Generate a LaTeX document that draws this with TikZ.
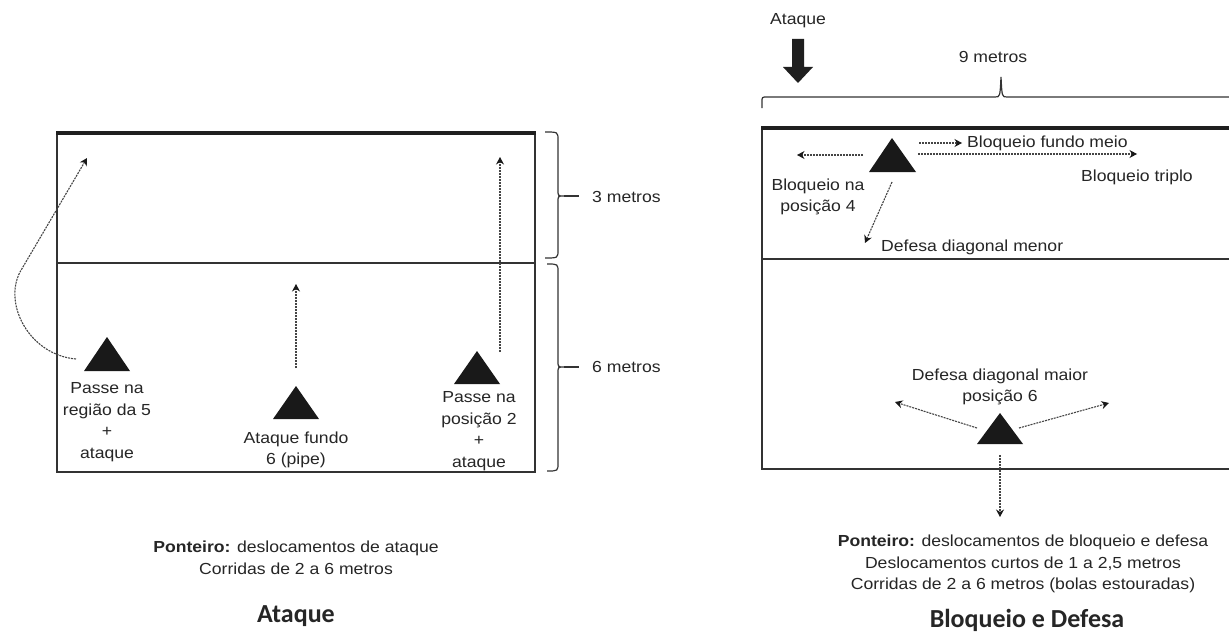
\documentclass[tikz,border=0pt]{standalone}
\usepackage{fontspec}
\setmainfont{Liberation Sans}
\newfontfamily\lab[FakeStretch=1.1]{Liberation Sans}
\newfontfamily\ttl{Carlito}
\usetikzlibrary{arrows.meta}
\definecolor{txt}{HTML}{262626}
\definecolor{ln}{HTML}{333333}
\definecolor{dsh}{HTML}{454545}
\begin{document}
\begin{tikzpicture}[x=1pt,y=1pt,
  lbl/.style={font=\lab\fontsize{16}{21.5}\selectfont, text=txt, align=center, inner sep=0pt},
  ttlstyle/.style={font=\ttl\bfseries\fontsize{26}{30}\selectfont, text=txt, inner sep=0pt},
  mv/.style={draw=dsh, line width=1.1pt, dash pattern=on 2pt off 1pt, -{Stealth[length=7.5pt,width=8pt,color=black!90,fill=black!90]}},
  court/.style={draw=ln, line width=1.5pt},
  net/.style={draw=black!88, line width=4pt},
  brc/.style={draw=ln, line width=1.2pt},
  tri/.style={fill=black!90}]
\fill[white] (0,0) rectangle (1229,-634);
\useasboundingbox (0,0) rectangle (1229,-634);

% ---------------- left court (Ataque)
\draw[court] (57,-133) rectangle (535,-472);
\draw[court] (57,-263) -- (535,-263);
\draw[net] (56,-133) -- (536,-133);

\fill[tri] (107,-337) -- (130,-371) -- (84,-371) -- cycle;
\fill[tri] (296,-386) -- (319,-419) -- (273,-419) -- cycle;
\fill[tri] (477,-351) -- (500,-384) -- (454,-384) -- cycle;

\coordinate (a1s) at (76,-359);
\coordinate (a1e) at (87,-158);
\coordinate (a2s) at (296,-368);
\coordinate (a2e) at (296,-284);
\coordinate (a3s) at (500,-352);
\coordinate (a3e) at (500,-157);
\draw[mv] (a1s) .. controls (30,-355) and (3,-305) .. (20,-272) -- (a1e);
\draw[mv] (a2s) -- (a2e);
\draw[mv] (a3s) -- (a3e);

\node[lbl] (l1) at (107,-422) {Passe na\\região da 5\\+\\ataque};
\node[lbl] (l2) at (296,-450) {Ataque fundo\\6 (pipe)};
\node[lbl] (l3) at (479,-431) {Passe na\\posição 2\\+\\ataque};

% braces
\draw[brc] (545,-132) .. controls (558,-132) .. (558,-140) -- (558,-190)
  .. controls (558,-196) .. (564,-196) .. controls (558,-196) .. (558,-202)
  -- (558,-250) .. controls (558,-258) .. (545,-258);
\coordinate (b1t) at (564,-196);
\coordinate (b1e) at (579,-196);
\draw[brc] (b1t) -- (b1e);
\draw[brc] (547,-264) .. controls (558,-264) .. (558,-272) -- (558,-361)
  .. controls (558,-367) .. (564,-367) .. controls (558,-367) .. (558,-373)
  -- (558,-463) .. controls (558,-471) .. (547,-471);
\coordinate (b2t) at (564,-367);
\coordinate (b2e) at (579,-367);
\draw[brc] (b2t) -- (b2e);
\node[lbl, anchor=west] (m3) at (592,-197) {3 metros};
\node[lbl, anchor=west] (m6) at (592,-367) {6 metros};

\node[lbl] (p1) at (296,-558) {\textbf{Ponteiro:} deslocamentos de ataque\\Corridas de 2 a 6 metros};
\node[ttlstyle, anchor=base] (t1) at (296,-622) {Ataque};

% ---------------- right court (Bloqueio e Defesa)
\node[lbl] (atk) at (798,-21) {Ataque};
\fill[black!88] (792,-39) -- (804,-39) -- (804,-67) -- (813,-67) -- (798,-83)
  -- (783,-67) -- (792,-67) -- cycle;

\draw[brc] (762,-108) -- (762,-102) .. controls (762,-97) .. (767,-97) -- (995,-97)
  .. controls (1000,-97) .. (1001,-77) .. controls (1002,-97) .. (1007,-97) -- (1232,-97);
\node[lbl] (m9) at (993,-57) {9 metros};

\draw[court] (762,-128) -- (762,-469) -- (1232,-469);
\draw[court] (762,-259) -- (1232,-259);
\draw[net] (761,-128) -- (1232,-128);

\fill[tri] (892,-138) -- (916,-172) -- (869,-172) -- cycle;
\fill[tri] (1000,-413) -- (1023,-444) -- (977,-444) -- cycle;

\coordinate (r1s) at (863,-155);
\coordinate (r1e) at (797,-155);
\coordinate (r2s) at (919,-143);
\coordinate (r2e) at (962,-143);
\coordinate (r3s) at (918,-154);
\coordinate (r3e) at (1137,-154);
\coordinate (r4s) at (892,-182);
\coordinate (r4e) at (865,-243);
\coordinate (r5s) at (977,-428);
\coordinate (r5e) at (895,-402);
\coordinate (r6s) at (1019,-428);
\coordinate (r6e) at (1109,-403);
\coordinate (r7s) at (1000,-455);
\coordinate (r7e) at (1000,-517);
\draw[mv] (r1s) -- (r1e);
\draw[mv] (r2s) -- (r2e);
\draw[mv] (r3s) -- (r3e);
\draw[mv] (r4s) -- (r4e);
\draw[mv] (r5s) -- (r5e);
\draw[mv] (r6s) -- (r6e);
\draw[mv] (r7s) -- (r7e);

\node[lbl, anchor=west] (bfm) at (967,-143) {Bloqueio fundo meio};
\node[lbl] (btr) at (1137,-177) {Bloqueio triplo};
\node[lbl] (bp4) at (818,-197) {Bloqueio na\\posição 4};
\node[lbl, anchor=west] (ddm) at (881,-247) {Defesa diagonal menor};
\node[lbl] (ddx) at (1000,-387) {Defesa diagonal maior\\posição 6};

\node[lbl] (p2) at (1023,-564) {\textbf{Ponteiro:} deslocamentos de bloqueio e defesa\\Deslocamentos curtos de 1 a 2,5 metros\\Corridas de 2 a 6 metros (bolas estouradas)};
\node[ttlstyle, anchor=base] (t2) at (1027,-627) {Bloqueio e Defesa};
\end{tikzpicture}
\end{document}
